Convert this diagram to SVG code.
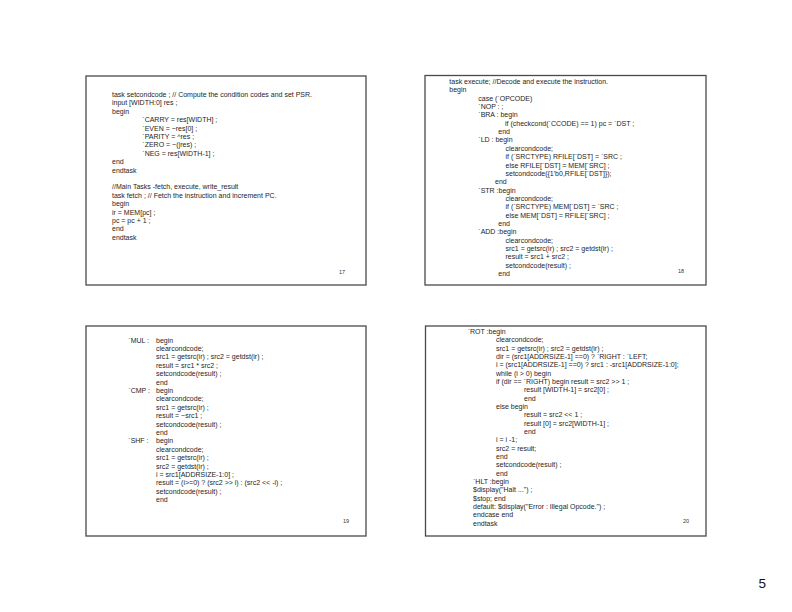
<svg xmlns="http://www.w3.org/2000/svg" width="792" height="612" viewBox="0 0 792 612">
<style>
.frame{fill:#fff;stroke:#4a4a4a;stroke-width:1.3}
.t{font-family:"Liberation Sans",Arial,sans-serif;font-size:7px;fill:#1e1e1e}
.n{font-family:"Liberation Sans",Arial,sans-serif;font-size:5.5px;fill:#333}
.pg{font-family:"Liberation Sans",Arial,sans-serif;font-size:13.5px;fill:#111}
</style>
<rect width="792" height="612" fill="#fff"/>
<g id="slide17">
<rect class="frame" x="86" y="76" width="280" height="209"/>
<text class="t" x="112" y="97">task setcondcode ; // Compute the condition codes and set PSR.</text>
<text class="t" x="112" y="105.4">input [WIDTH:0] res ;</text>
<text class="t" x="112" y="113.8">begin</text>
<text class="t" x="142.3" y="122.2">`CARRY = res[WIDTH] ;</text>
<text class="t" x="142.3" y="130.6">`EVEN = ~res[0] ;</text>
<text class="t" x="142.3" y="139">`PARITY = ^res ;</text>
<text class="t" x="142.3" y="147.4">`ZERO = ~(|res) ;</text>
<text class="t" x="142.3" y="155.8">`NEG = res[WIDTH-1] ;</text>
<text class="t" x="112" y="164.2">end</text>
<text class="t" x="112" y="172.6">endtask</text>
<text class="t" x="112" y="189.4">//Main Tasks -fetch, execute, write_result</text>
<text class="t" x="112" y="197.8">task fetch ; // Fetch the instruction and increment PC.</text>
<text class="t" x="112" y="206.2">begin</text>
<text class="t" x="112" y="214.6">ir = MEM[pc] ;</text>
<text class="t" x="112" y="223">pc = pc + 1 ;</text>
<text class="t" x="112" y="231.4">end</text>
<text class="t" x="112" y="239.8">endtask</text>
<text class="n" x="339" y="274">17</text>
</g>
<g id="slide18">
<rect class="frame" x="425" y="75.5" width="281" height="209.5"/>
<text class="t" x="449.3" y="84">task execute; //Decode and execute the instruction.</text>
<text class="t" x="449.3" y="92.35">begin</text>
<text class="t" x="478.3" y="100.7">case (`OPCODE)</text>
<text class="t" x="478.3" y="109.05">`NOP : ;</text>
<text class="t" x="478.3" y="117.4">`BRA : begin</text>
<text class="t" x="505" y="125.75">if (checkcond(`CCODE) == 1) pc = `DST ;</text>
<text class="t" x="498.3" y="134.1">end</text>
<text class="t" x="478.3" y="142.45">`LD : begin</text>
<text class="t" x="505.5" y="150.8">clearcondcode;</text>
<text class="t" x="505.5" y="159.15">if (`SRCTYPE) RFILE[`DST] = `SRC ;</text>
<text class="t" x="505.5" y="167.5">else RFILE[`DST] = MEM[`SRC] ;</text>
<text class="t" x="505.5" y="175.85">setcondcode({1'b0,RFILE[`DST]});</text>
<text class="t" x="495" y="184.2">end</text>
<text class="t" x="478.3" y="192.55">`STR :begin</text>
<text class="t" x="505.5" y="200.9">clearcondcode;</text>
<text class="t" x="505.5" y="209.25">if (`SRCTYPE) MEM[`DST] = `SRC ;</text>
<text class="t" x="505.5" y="217.6">else MEM[`DST] = RFILE[`SRC] ;</text>
<text class="t" x="498.3" y="225.95">end</text>
<text class="t" x="478.3" y="234.3">`ADD :begin</text>
<text class="t" x="505.5" y="242.65">clearcondcode;</text>
<text class="t" x="505.5" y="251">src1 = getsrc(ir) ; src2 = getdst(ir) ;</text>
<text class="t" x="505.5" y="259.35">result = src1 + src2 ;</text>
<text class="t" x="505.5" y="267.7">setcondcode(result) ;</text>
<text class="t" x="498.3" y="276.05">end</text>
<text class="n" x="678" y="273">18</text>
</g>
<g id="slide19">
<rect class="frame" x="86" y="326" width="280" height="210"/>
<text class="t" x="128.3" y="342.5">`MUL :</text><text class="t" x="156" y="342.5">begin</text>
<text class="t" x="156" y="350.9">clearcondcode;</text>
<text class="t" x="156" y="359.3">src1 = getsrc(ir) ; src2 = getdst(ir) ;</text>
<text class="t" x="156" y="367.7">result = src1 * src2 ;</text>
<text class="t" x="156" y="376.1">setcondcode(result) ;</text>
<text class="t" x="156" y="384.5">end</text>
<text class="t" x="128.3" y="392.9">`CMP :</text><text class="t" x="156" y="392.9">begin</text>
<text class="t" x="156" y="401.3">clearcondcode;</text>
<text class="t" x="156" y="409.7">src1 = getsrc(ir) ;</text>
<text class="t" x="156" y="418.1">result = ~src1 ;</text>
<text class="t" x="156" y="426.5">setcondcode(result) ;</text>
<text class="t" x="156" y="434.9">end</text>
<text class="t" x="128.3" y="443.3">`SHF :</text><text class="t" x="156" y="443.3">begin</text>
<text class="t" x="156" y="451.7">clearcondcode;</text>
<text class="t" x="156" y="460.1">src1 = getsrc(ir) ;</text>
<text class="t" x="156" y="468.5">src2 = getdst(ir) ;</text>
<text class="t" x="156" y="476.9">i = src1[ADDRSIZE-1:0] ;</text>
<text class="t" x="156" y="485.3">result = (i&gt;=0) ? (src2 &gt;&gt; i) : (src2 &lt;&lt; -i) ;</text>
<text class="t" x="156" y="493.7">setcondcode(result) ;</text>
<text class="t" x="156" y="502.1">end</text>
<text class="n" x="343" y="523">19</text>
</g>
<g id="slide20">
<rect class="frame" x="425.5" y="326" width="280.5" height="210"/>
<text class="t" x="467.7" y="334.1">`ROT :begin</text>
<text class="t" x="496" y="342.43">clearcondcode;</text>
<text class="t" x="496" y="350.76">src1 = getsrc(ir) ; src2 = getdst(ir) ;</text>
<text class="t" x="496" y="359.09">dir = (src1[ADDRSIZE-1] ==0) ? `RIGHT : `LEFT;</text>
<text class="t" x="496" y="367.42">i = (src1[ADDRSIZE-1] ==0) ? src1 : -src1[ADDRSIZE-1:0];</text>
<text class="t" x="496" y="375.75">while (i &gt; 0) begin</text>
<text class="t" x="496" y="384.08">if (dir == `RIGHT) begin result = src2 &gt;&gt; 1 ;</text>
<text class="t" x="524" y="392.41">result [WIDTH-1] = src2[0] ;</text>
<text class="t" x="524" y="400.74">end</text>
<text class="t" x="496" y="409.07">else begin</text>
<text class="t" x="524" y="417.4">result = src2 &lt;&lt; 1 ;</text>
<text class="t" x="524" y="425.73">result [0] = src2[WIDTH-1] ;</text>
<text class="t" x="524" y="434.06">end</text>
<text class="t" x="496" y="442.39">i = i -1;</text>
<text class="t" x="496" y="450.72">src2 = result;</text>
<text class="t" x="496" y="459.05">end</text>
<text class="t" x="496" y="467.38">setcondcode(result) ;</text>
<text class="t" x="496" y="475.71">end</text>
<text class="t" x="473" y="484.04">`HLT :begin</text>
<text class="t" x="473" y="492.37">$display("Halt ...") ;</text>
<text class="t" x="473" y="500.7">$stop; end</text>
<text class="t" x="473" y="509.03">default: $display("Error : Illegal Opcode.") ;</text>
<text class="t" x="473" y="517.36">endcase end</text>
<text class="t" x="473" y="525.69">endtask</text>
<text class="n" x="683" y="523">20</text>
</g>
<text class="pg" x="758.5" y="587.5">5</text>
</svg>
